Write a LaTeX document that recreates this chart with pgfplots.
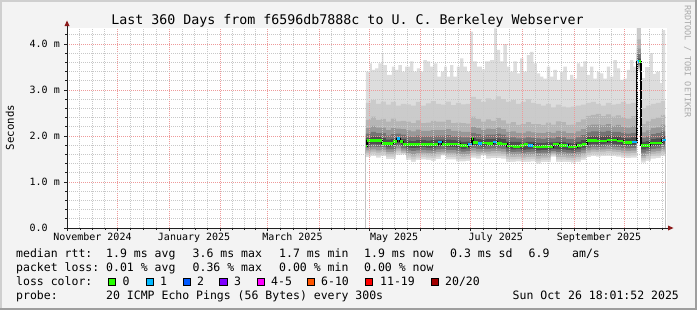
\documentclass[border=0pt]{standalone}
\usepackage{fontspec}
\setmainfont{DejaVu Sans Mono}
\usepackage{pgfplots}
\usepackage{pgfplotstable}
\pgfplotsset{compat=1.18}
\usetikzlibrary{arrows.meta}

\definecolor{bgc}{HTML}{F3F3F3}
\definecolor{shadea}{HTML}{CFCFCF}
\definecolor{shadeb}{HTML}{9E9E9E}
\definecolor{majgrid}{HTML}{EE9A9A}
\definecolor{mingrid}{HTML}{C8C8C8}
\definecolor{axisc}{HTML}{202020}
\definecolor{arrowc}{HTML}{8B1A1A}
\definecolor{wmark}{HTML}{AAAAAA}
\definecolor{Lone}{HTML}{DDDDDD}
\definecolor{Ltwo}{HTML}{CBCBCB}
\definecolor{Lthree}{HTML}{B5B5B5}
\definecolor{Lfour}{HTML}{989898}
\definecolor{Lfive}{HTML}{747474}
\definecolor{Lsix}{HTML}{4D4D4D}
\definecolor{lcA}{HTML}{26FF00}
\definecolor{lcB}{HTML}{00B8FF}
\definecolor{lcC}{HTML}{0059FF}
\definecolor{lcD}{HTML}{7E00FF}
\definecolor{lcE}{HTML}{FF00FF}
\definecolor{lcF}{HTML}{FF5500}
\definecolor{lcG}{HTML}{FF0000}
\definecolor{lcH}{HTML}{A10000}

% smoke bands: x (days from 1 Nov 2024), min, lower levels, upper levels
\pgfplotstableread{
x mn a2 a3 a4 a5 a6 b6 b5 b4 b3 b2
179.0 1.54 1.59 1.64 1.69 1.75 1.81 1.96 2.05 2.17 2.35 2.72
182.0 1.56 1.61 1.66 1.71 1.77 1.83 1.99 2.09 2.22 2.42 2.78
185.0 1.53 1.58 1.64 1.69 1.76 1.82 1.98 2.06 2.18 2.35 2.70
188.0 1.56 1.60 1.65 1.70 1.76 1.81 1.96 2.06 2.18 2.37 2.75
191.0 1.50 1.55 1.60 1.65 1.71 1.77 1.92 2.01 2.13 2.31 2.68
194.0 1.50 1.55 1.60 1.65 1.71 1.78 1.94 2.04 2.17 2.38 2.74
197.0 1.59 1.64 1.68 1.73 1.78 1.84 1.97 2.05 2.16 2.32 2.66
200.0 1.60 1.62 1.64 1.68 1.73 1.79 1.94 2.03 2.15 2.33 2.70
203.0 1.48 1.53 1.58 1.63 1.69 1.75 1.90 1.99 2.12 2.31 2.69
206.0 1.44 1.49 1.55 1.60 1.67 1.74 1.89 1.98 2.10 2.28 2.66
209.0 1.48 1.53 1.58 1.63 1.69 1.75 1.91 2.01 2.14 2.34 2.74
212.0 1.49 1.54 1.59 1.64 1.70 1.76 1.91 1.99 2.11 2.28 2.66
215.0 1.48 1.53 1.58 1.63 1.69 1.75 1.90 1.99 2.11 2.29 2.71
218.0 1.46 1.52 1.57 1.62 1.68 1.75 1.91 2.00 2.13 2.33 2.76
221.0 1.50 1.55 1.60 1.65 1.71 1.77 1.92 2.01 2.13 2.31 2.70
224.0 1.58 1.60 1.62 1.66 1.72 1.78 1.92 2.01 2.13 2.31 2.68
227.0 1.49 1.54 1.59 1.64 1.70 1.76 1.92 2.02 2.15 2.35 2.75
230.0 1.49 1.54 1.59 1.64 1.70 1.76 1.91 1.99 2.11 2.28 2.67
233.0 1.45 1.50 1.56 1.61 1.68 1.75 1.90 1.99 2.11 2.29 2.72
236.0 1.45 1.50 1.55 1.60 1.66 1.72 1.87 1.97 2.09 2.28 2.69
239.0 1.46 1.51 1.56 1.61 1.67 1.73 1.88 1.97 2.09 2.27 2.70
242.0 1.53 1.58 1.63 1.68 1.74 1.80 1.96 2.07 2.20 2.42 2.85
245.0 1.51 1.56 1.61 1.66 1.72 1.78 1.94 2.04 2.17 2.37 2.80
248.0 1.58 1.60 1.63 1.66 1.72 1.77 1.92 2.01 2.13 2.31 2.74
251.0 1.51 1.56 1.61 1.66 1.72 1.78 1.94 2.03 2.16 2.36 2.82
254.0 1.52 1.57 1.62 1.67 1.73 1.79 1.94 2.03 2.15 2.33 2.78
257.0 1.52 1.57 1.62 1.67 1.73 1.79 1.95 2.05 2.18 2.39 2.86
260.0 1.51 1.56 1.61 1.66 1.72 1.78 1.93 2.03 2.15 2.34 2.80
263.0 1.44 1.50 1.55 1.60 1.66 1.73 1.88 1.97 2.09 2.27 2.74
266.0 1.44 1.49 1.54 1.59 1.65 1.71 1.87 1.97 2.10 2.30 2.78
269.0 1.45 1.50 1.55 1.60 1.66 1.72 1.87 1.95 2.07 2.24 2.70
272.0 1.43 1.48 1.53 1.58 1.64 1.70 1.85 1.95 2.07 2.26 2.74
275.0 1.44 1.49 1.54 1.59 1.65 1.71 1.87 1.97 2.10 2.30 2.80
278.0 1.45 1.50 1.55 1.60 1.66 1.72 1.87 1.96 2.08 2.26 2.72
281.0 1.40 1.45 1.51 1.56 1.63 1.69 1.85 1.95 2.07 2.26 2.70
284.0 1.43 1.48 1.53 1.58 1.64 1.70 1.85 1.94 2.06 2.24 2.66
287.0 1.43 1.48 1.53 1.58 1.64 1.70 1.86 1.96 2.09 2.29 2.70
290.0 1.55 1.58 1.61 1.64 1.67 1.72 1.86 1.95 2.07 2.25 2.62
293.0 1.44 1.49 1.54 1.59 1.65 1.71 1.87 1.98 2.11 2.32 2.68
296.0 1.44 1.49 1.54 1.59 1.65 1.71 1.87 1.97 2.10 2.30 2.64
299.0 1.43 1.48 1.53 1.58 1.64 1.70 1.85 1.94 2.06 2.24 2.62
302.0 1.42 1.47 1.52 1.57 1.63 1.69 1.84 1.94 2.06 2.25 2.64
305.0 1.44 1.49 1.54 1.59 1.65 1.71 1.87 1.97 2.10 2.30 2.66
308.0 1.48 1.53 1.58 1.63 1.69 1.75 1.91 2.02 2.15 2.36 2.68
311.0 1.54 1.59 1.64 1.69 1.75 1.81 1.98 2.08 2.23 2.44 2.72
314.0 1.56 1.61 1.66 1.71 1.77 1.83 2.00 2.10 2.25 2.46 2.74
317.0 1.55 1.60 1.65 1.70 1.76 1.82 1.99 2.10 2.25 2.48 2.70
320.0 1.56 1.61 1.66 1.71 1.77 1.83 1.99 2.09 2.23 2.43 2.66
323.0 1.57 1.62 1.67 1.72 1.78 1.84 2.01 2.11 2.26 2.47 2.72
326.0 1.56 1.61 1.66 1.71 1.77 1.83 1.99 2.09 2.22 2.42 2.68
329.0 1.55 1.60 1.65 1.70 1.76 1.82 1.99 2.09 2.24 2.45 2.70
332.0 1.53 1.58 1.63 1.68 1.74 1.80 1.96 2.07 2.20 2.41 2.74
335.0 1.52 1.57 1.62 1.67 1.73 1.79 1.95 2.05 2.18 2.38 2.70
338.0 1.53 1.58 1.63 1.68 1.74 1.80 1.97 2.07 2.22 2.43 2.72
341.6 3.42 3.45 3.48 3.51 3.55 3.58 3.68 3.78 3.90 4.10 4.40
344.0 1.42 1.47 1.52 1.57 1.64 1.71 1.87 1.96 2.08 2.26 2.60
347.0 1.46 1.51 1.56 1.61 1.67 1.73 1.89 1.99 2.12 2.32 2.66
350.0 1.51 1.56 1.61 1.66 1.72 1.78 1.94 2.04 2.17 2.37 2.70
353.0 1.52 1.57 1.62 1.67 1.73 1.79 1.95 2.06 2.19 2.40 2.72
356.0 1.56 1.61 1.66 1.71 1.77 1.83 2.00 2.10 2.25 2.46 2.76
358.6 1.56 1.61 1.66 1.71 1.77 1.83 2.00 2.10 2.25 2.46 2.76
}\smoke

% maximum ping
\pgfplotstableread{
x mx
179.0 3.40
181.6 3.58
182.6 3.44
184.6 3.47
186.6 3.58
188.6 3.80
189.6 3.54
191.6 3.33
194.6 3.51
196.6 3.44
198.6 3.54
200.6 3.40
202.6 3.51
205.6 3.62
207.6 3.40
209.6 3.47
211.6 3.40
213.6 3.65
215.6 3.62
217.6 3.51
219.6 3.58
222.0 3.29
224.0 3.40
226.0 3.51
227.6 3.29
229.6 3.54
231.6 3.29
233.6 3.51
235.6 3.69
237.6 3.51
239.6 3.40
241.6 4.27
243.2 3.62
245.6 3.51
248.6 3.45
250.6 3.62
253.6 3.65
256.0 4.34
257.6 3.87
259.6 3.62
261.6 4.00
263.6 3.51
265.6 3.40
267.6 3.62
269.6 3.36
271.6 3.69
273.6 3.40
275.6 3.76
277.6 3.83
279.6 3.58
281.6 3.36
283.6 3.29
285.6 3.25
287.6 3.51
289.6 3.29
291.6 3.44
293.6 3.22
295.6 3.40
297.6 3.51
299.6 3.22
301.6 3.33
303.6 3.25
305.6 3.58
307.6 3.51
309.6 3.62
311.6 3.33
313.6 3.51
315.6 3.25
317.6 3.40
319.6 3.36
321.6 3.25
323.6 3.51
325.6 3.29
327.6 3.65
329.6 3.47
331.6 3.22
333.6 3.25
335.6 3.44
337.6 3.65
339.6 3.51
341.6 4.50
344.0 3.26
346.6 3.50
349.4 3.80
351.2 3.35
353.0 3.40
355.6 3.15
356.6 4.30
358.6 4.30
}\smokemax

% median rtt
\pgfplotstableread{
x med
179.2 1.78
179.6 1.90
188.6 1.84
195.6 1.88
197.6 1.94
199.6 1.88
201.6 1.82
206.0 1.81
210.0 1.82
214.0 1.81
218.0 1.82
222.6 1.87
224.6 1.82
229.0 1.83
235.6 1.80
239.6 1.77
240.6 1.81
242.6 1.94
243.6 1.86
246.6 1.84
248.6 1.85
252.0 1.84
255.6 1.87
257.6 1.84
261.0 1.83
263.6 1.78
267.6 1.77
271.6 1.79
274.0 1.82
276.6 1.80
279.6 1.76
285.0 1.77
290.6 1.76
291.6 1.83
295.0 1.79
299.6 1.80
300.6 1.76
305.6 1.80
308.6 1.82
311.6 1.90
318.0 1.89
324.0 1.91
330.0 1.89
333.6 1.86
338.6 1.87
341.6 3.62
344.0 1.80
349.6 1.85
356.6 1.91
359.2 1.91
}\median

\newcommand\lf{\fontsize{11.5bp}{14bp}\selectfont}

\begin{document}
\begin{tikzpicture}
\begin{scope}[x=1bp,y=1bp]
\useasboundingbox (0,0) rectangle (697,310);
\fill[bgc] (0,0) rectangle (697,310);
\fill[shadea] (0,308) rectangle (697,310);
\fill[shadea] (0,0) rectangle (2,310);
\fill[shadeb] (0,0) rectangle (697,2);
\fill[shadeb] (695,0) rectangle (697,310);
\fill[white] (67,82) rectangle (667,282);
\end{scope}

\begin{axis}[
  at={(67bp,82bp)}, anchor=south west,
  scale only axis, width=600bp, height=200bp,
  xmin=-0.25, xmax=359.75, ymin=0, ymax=4.348,
  axis line style={draw=none},
  axis on top,
  xtick={0,30,61,92,120,151,181,212,242,273,304,334},
  xticklabels={},
  minor xtick={7.5,15,22.5,37.75,45.5,53.25,68.75,76.5,84.25,99,106,113,127.75,135.5,143.25,158.5,166,173.5,188.75,196.5,204.25,219.5,227,234.5,249.75,257.5,265.25,280.75,288.5,296.25,311.5,319,326.5,341.75,349.5,357.25},
  ytick={0,1,2,3,4},
  yticklabels={0.0\phantom{00},1.0 m,2.0 m,3.0 m,4.0 m},
  minor ytick={0.2,0.4,0.6,0.8,1.2,1.4,1.6,1.8,2.2,2.4,2.6,2.8,3.2,3.4,3.6,3.8,4.2},
  grid=both,
  major grid style={draw=majgrid, line width=1bp, dash pattern=on 1bp off 1bp},
  minor grid style={draw=mingrid, line width=1bp, dash pattern=on 1bp off 1bp},
  xtick pos=bottom, ytick pos=left,
  tick align=outside,
  major tick length=3bp, minor tick length=2bp,
  tick style={draw=axisc, line width=0.8bp},
  tick label style={font=\fontsize{10bp}{12bp}\selectfont, text=black},
  yticklabel style={anchor=east, inner sep=0pt, xshift=-4bp},
  extra x ticks={15,76,135,196,257,319},
  extra x tick labels={November 2024,January 2025,March 2025,May 2025,July 2025,September 2025},
  extra x tick style={grid=none, major tick length=0pt,
    xticklabel style={anchor=north, inner sep=0pt, yshift=-4.5bp}},
]
\addplot[const plot, draw=none, fill=Lone] table[x=x,y=mx]{\smokemax} \closedcycle;
\addplot[const plot, draw=none, fill=Ltwo] table[x=x,y=b2]{\smoke} \closedcycle;
\addplot[const plot, draw=none, fill=Lthree] table[x=x,y=b3]{\smoke} \closedcycle;
\addplot[const plot, draw=none, fill=Lfour] table[x=x,y=b4]{\smoke} \closedcycle;
\addplot[const plot, draw=none, fill=Lfive] table[x=x,y=b5]{\smoke} \closedcycle;
\addplot[const plot, draw=none, fill=Lsix] table[x=x,y=b6]{\smoke} \closedcycle;
\addplot[const plot, draw=none, fill=Lfive] table[x=x,y=a6]{\smoke} \closedcycle;
\addplot[const plot, draw=none, fill=Lfour] table[x=x,y=a5]{\smoke} \closedcycle;
\addplot[const plot, draw=none, fill=Lthree] table[x=x,y=a4]{\smoke} \closedcycle;
\addplot[const plot, draw=none, fill=Ltwo] table[x=x,y=a3]{\smoke} \closedcycle;
\addplot[const plot, draw=none, fill=Lone] table[x=x,y=a2]{\smoke} \closedcycle;
\addplot[const plot, draw=none, fill=white] table[x=x,y=mn]{\smoke} \closedcycle;
% median
\addplot[const plot, draw=black, line width=1.5bp] table[x=x,y=med]{\median};
\addplot[jump mark left, draw=lcA, line width=2.6bp] table[x=x,y=med]{\median};
\addplot[draw=lcB, line width=2.6bp] coordinates {(197.6,1.94) (199.6,1.94)};
\addplot[draw=lcB, line width=2.6bp] coordinates {(222.6,1.87) (224.6,1.87)};
\addplot[draw=lcB, line width=2.6bp] coordinates {(240.6,1.81) (242.6,1.81)};
\addplot[draw=lcB, line width=2.6bp] coordinates {(246.6,1.84) (248.6,1.84)};
\addplot[draw=lcB, line width=2.6bp] coordinates {(255.6,1.87) (257.6,1.87)};
\addplot[draw=lcB, line width=2.6bp] coordinates {(276.6,1.80) (279.6,1.80)};
\addplot[draw=lcB, line width=2.6bp] coordinates {(299.6,1.80) (300.6,1.80)};
\addplot[draw=lcB, line width=2.6bp] coordinates {(338.6,1.87) (341.6,1.87)};
\addplot[draw=lcB, line width=2.6bp] coordinates {(341.6,3.62) (342.8,3.62)};
\addplot[draw=lcB, line width=2.6bp] coordinates {(356.6,1.91) (359.2,1.91)};
\end{axis}

\begin{scope}[x=1bp,y=1bp]
% axes with arrows
\draw[axisc, line width=1bp] (66.5,82) -- (669,82);
\fill[arrowc] (668,79.5) -- (673.5,82) -- (668,84.5) -- cycle;
\draw[axisc, line width=1bp] (67,82) -- (67,285);
\fill[arrowc] (64.5,284) -- (67,289.5) -- (69.5,284) -- cycle;
% title
\node[anchor=base, inner sep=0pt, font=\fontsize{13.3bp}{16bp}\selectfont] at (347.5,286) {Last 360 Days from f6596db7888c to U. C. Berkeley Webserver};
% y label
\node[rotate=90, inner sep=0pt, font=\fontsize{10.7bp}{12bp}\selectfont] at (10,182.5) {Seconds};
% watermark
\node[rotate=-90, anchor=west, inner sep=0pt, text=wmark, font=\fontsize{8.5bp}{10bp}\selectfont] at (687.5,305) {RRDTOOL / TOBI OETIKER};
% legend
\begin{scope}[every node/.style={anchor=base west, inner sep=0pt, font=\lf}]
\node at (16,52.7) {median rtt:};
\node at (106,52.7) {1.9 ms avg};
\node at (192.5,52.7) {3.6 ms max};
\node at (279,52.7) {1.7 ms min};
\node at (364,52.7) {1.9 ms now};
\node at (450,52.7) {0.3 ms sd};
\node at (528.5,52.7) {6.9};
\node at (572,52.7) {am/s};
\node at (16,38.7) {packet loss:};
\node at (106,38.7) {0.01 \% avg};
\node at (192.5,38.7) {0.36 \% max};
\node at (279,38.7) {0.00 \% min};
\node at (364,38.7) {0.00 \% now};
\node at (16,24.7) {loss color:};
\node at (122.5,24.7) {0};
\node at (160,24.7) {1};
\node at (197,24.7) {2};
\node at (234,24.7) {3};
\node at (271,24.7) {4-5};
\node at (321,24.7) {6-10};
\node at (380,24.7) {11-19};
\node at (445,24.7) {20/20};
\node at (16,10.7) {probe:};
\node at (106,10.7) {20 ICMP Echo Pings (56 Bytes) every 300s};
\node at (512.5,10.7) {Sun Oct 26 18:01:52 2025};
\end{scope}
\begin{scope}[line width=0.8bp]
\filldraw[fill=lcA, draw=black] (108.4,24.2) rectangle (115.6,31.4);
\filldraw[fill=lcB, draw=black] (146.0,24.2) rectangle (153.2,31.4);
\filldraw[fill=lcC, draw=black] (183.0,24.2) rectangle (190.2,31.4);
\filldraw[fill=lcD, draw=black] (219.7,24.2) rectangle (226.9,31.4);
\filldraw[fill=lcE, draw=black] (257.0,24.2) rectangle (264.2,31.4);
\filldraw[fill=lcF, draw=black] (307.0,24.2) rectangle (314.2,31.4);
\filldraw[fill=lcG, draw=black] (365.4,24.2) rectangle (372.6,31.4);
\filldraw[fill=lcH, draw=black] (431.0,24.2) rectangle (438.2,31.4);
\end{scope}
\end{scope}
\end{tikzpicture}
\end{document}
